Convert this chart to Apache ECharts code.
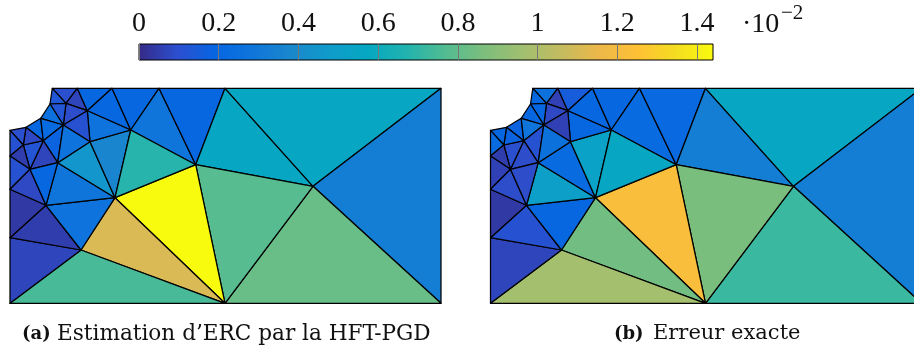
<!DOCTYPE html>
<html><head><meta charset="utf-8">
<style>html,body{margin:0;padding:0;background:#fff;overflow:hidden}#c{width:914px;height:352px}</style>
<script src="https://cdn.jsdelivr.net/npm/echarts@6/dist/echarts.min.js"></script>
</head><body><div id="c"></div>
<script>
// Mesh vertices (x to the right, y upward, in mesh units)
const vertexNames = ['A','B','C','D','E','F','G','H','I','TR','BR','CE','J','K','L','M','N','O','P','Q','R','S','T','U','V','W','X','Y','Z','AA'];
const vertexX = [0,16,30.7,40,42.3,67.3,102,149,215,431,431,303,56,77.3,53.3,33.3,13.3,0,20,47.7,80,120.7,185.7,105,36,0,0,71,0,215];
const vertexY = [173,176,185,199.3,215,215,215,215,215,215,0,117,200,192.6,178.3,162.6,158.3,147.3,134,140.6,161.6,173.3,138.6,105.6,98,114,65.6,53.3,0,0];
// Triangles as vertex names
const triangles = ['E F J','E J D','F K J','F G K','G S K','G H S','H T S','H I T','I CE T','I TR CE','TR BR CE','CE BR AA','T CE AA','T AA U','U AA Y','Y AA Z','X Y Z','V Y X','W V X','V U Y','V Q U','Q R U','R S U','S T U','K S R','J K L','L K R','D J L','C D L','B C M','C L M','L Q M','L R Q','M Q P','N M P','B M N','A B N','A N O','O N P','O P W','W P V','P Q V'];
const errorA = [0.10,0.13,0.07,0.20,0.20,0.20,0.28,0.20,0.57,0.56,0.33,0.82,0.78,1.44,1.11,0.75,0.07,0.05,0.04,0.27,0.28,0.45,0.37,0.68,0.27,0.09,0.11,0.12,0.25,0.20,0.22,0.18,0.27,0.07,0.12,0.08,0.10,0.11,0.05,0.11,0.08,0.20];
const errorB = [0.25,0.20,0.06,0.15,0.20,0.20,0.22,0.21,0.33,0.57,0.33,0.72,0.86,1.22,0.84,0.97,0.07,0.11,0.04,0.20,0.50,0.22,0.53,0.57,0.20,0.08,0.06,0.20,0.20,0.18,0.28,0.11,0.26,0.09,0.10,0.18,0.20,0.22,0.05,0.06,0.09,0.09];
// Colour ramp, evenly spread over 0..1.44
const rampColors = ['#352a87','#2c4fcf','#0666e2','#1076da','#1a88cc','#0f9cca','#06a8c2','#22b3ae','#52bc92','#7cbe7d','#a0bf70','#c2bc60','#ecb84a','#fec035','#f5dc22','#f9fb0e'];
const barMax = 1.44;
const tickValues = [0,0.2,0.4,0.6,0.8,1,1.2,1.4];
const captionA = 'Estimation d’ERC par la HFT-PGD';
const captionB = 'Erreur exacte';

const idx = Object.fromEntries(vertexNames.map((n,i)=>[n,i]));
const triIdx = triangles.map(t=>t.split(' ').map(n=>idx[n]));
function mesh(values, g){
  return {type:'custom',xAxisIndex:g,yAxisIndex:g,clip:false,
    data:values.map((v,i)=>[i,v]),encode:{x:-1,y:-1},
    renderItem(p,api){
      const t=triIdx[api.value(0)];
      const pts=t.map(k=>api.coord([vertexX[k],vertexY[k]]));
      return {type:'polygon',shape:{points:pts},style:{fill:api.visual('color'),stroke:'#000',lineWidth:1.25,lineJoin:'round'}};
    }};
}
const stops = rampColors.map((c,i)=>({offset:i/(rampColors.length-1),color:c}));
const meshAxis = (g,max)=>({gridIndex:g,type:'value',min:0,max,show:false});
const txt = (text,left,top,size,family,weight)=>({text,left,top,padding:0,textStyle:{fontFamily:family,fontSize:size,fontWeight:weight||'normal',color:'#111'}});
const chart = echarts.init(document.getElementById('c'),null,{renderer:'canvas'});
chart.setOption({
  animation:false,backgroundColor:'#fff',
  grid:[
    {left:10,top:88.3,width:431,height:215,outerBoundsMode:'none'},
    {left:490.5,top:88.3,width:431,height:215,outerBoundsMode:'none'},
    {left:139,top:44,width:574,height:16,show:true,borderColor:'#000',borderWidth:1,backgroundColor:'transparent',z:5,outerBoundsMode:'none'}
  ],
  xAxis:[meshAxis(0,431),meshAxis(1,431),
    {gridIndex:2,type:'value',min:0,max:barMax,position:'top',z:10,splitLine:{show:false},axisLine:{show:false,onZero:false},
     axisTick:{show:true,inside:true,length:16,customValues:tickValues,lineStyle:{color:'#777',width:1}},
     axisLabel:{show:true,customValues:tickValues,margin:6,fontFamily:'Liberation Serif',fontSize:28,color:'#111',hideOverlap:false,formatter:v=>String(v)}}],
  yAxis:[meshAxis(0,215),meshAxis(1,215),{gridIndex:2,type:'value',min:0,max:1,show:false}],
  visualMap:{show:false,type:'continuous',min:0,max:barMax,dimension:1,seriesIndex:[0,1],inRange:{color:rampColors}},
  series:[mesh(errorA,0),mesh(errorB,1),
    {type:'custom',xAxisIndex:2,yAxisIndex:2,data:[[0,barMax]],encode:{x:[0,1]},z:1,
     renderItem(p,api){
       const a=api.coord([api.value(0),0]),b=api.coord([api.value(1),1]);
       return {type:'rect',shape:{x:a[0],y:b[1],width:b[0]-a[0],height:a[1]-b[1]},
         style:{fill:new echarts.graphic.LinearGradient(0,0,1,0,stops)}};
     }}],
  title:[
    txt('·10',742,11,28,'Liberation Serif'),
    txt('−2',781,3,21,'Liberation Serif'),
    txt('(a)',22,325,18,'DejaVu Serif','bold'),
    txt(captionA,57,323,21.6,'DejaVu Serif'),
    txt('(b)',614,325,18,'DejaVu Serif','bold'),
    txt(captionB,653,323,21,'DejaVu Serif')
  ]
});
</script></body></html>
